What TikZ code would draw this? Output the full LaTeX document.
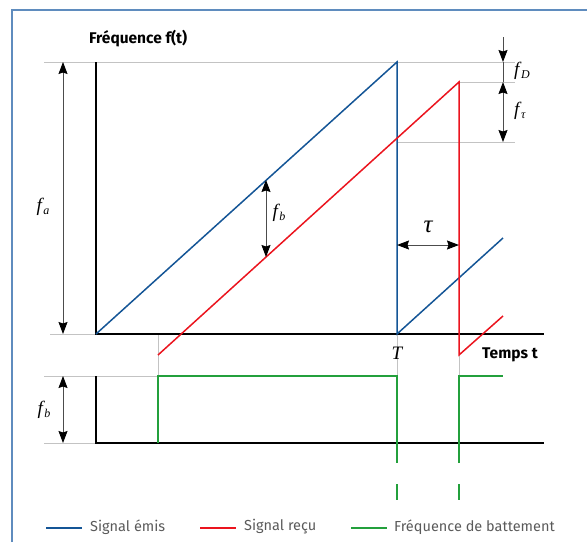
\documentclass[tikz,border=0pt]{standalone}
\usepackage{fontspec}
\setmainfont{Liberation Serif}
\newfontfamily\labfont{Fira Sans}
\usetikzlibrary{arrows.meta}
\definecolor{frameblue}{RGB}{95,140,190}
\definecolor{sigblue}{RGB}{20,85,150}
\definecolor{sigred}{RGB}{235,20,30}
\definecolor{siggreen}{RGB}{35,160,60}
\definecolor{guide}{RGB}{195,195,195}
\definecolor{legtext}{RGB}{90,90,90}
\newcommand\fsub[1]{\textit{f}\kern-0.5pt\raisebox{-0.35ex}{\fontsize{12}{12}\selectfont\textit{#1}}}
\begin{document}
\begin{tikzpicture}[x=1pt,y=-1pt,
  axisline/.style={line width=2.4pt,black},
  sig/.style={line width=1.5pt},
  guideline/.style={line width=0.9pt,guide},
  dimarrow/.style={line width=1pt,black!70,{Stealth[length=12pt,width=9pt,inset=1.5pt,color=black]}-{Stealth[length=12pt,width=9pt,inset=1.5pt,color=black]}},
  dimhead/.style={line width=1pt,black!70,-{Stealth[length=12pt,width=9pt,inset=1.5pt,color=black]}},
  mlabel/.style={font=\fontsize{19}{19}\selectfont,inner sep=0pt},
  boldlabel/.style={font=\labfont\bfseries\fontsize{15.5}{15.5}\selectfont,inner sep=0pt},
  legendtext/.style={font=\labfont\fontsize{14.5}{14.5}\selectfont,text=legtext,anchor=west,inner sep=0pt}]
\useasboundingbox (0,0) rectangle (587,542);
% frame
\draw[frameblue,line width=2.4pt] (12,542) -- (12,10) -- (587,10);

% named points
\coordinate (O) at (96,334);
\coordinate (Ytop) at (96,62);
\coordinate (Xend) at (544,334);
\coordinate (Bpeak) at (397,62);
\coordinate (Bbot) at (397,334);
\coordinate (Bend) at (503,238);
\coordinate (Rstart) at (158,355);
\coordinate (Rpeak) at (459,82);
\coordinate (Rbot) at (459,355);
\coordinate (Rend) at (503,316);
\coordinate (O2) at (96,443);
\coordinate (Y2top) at (96,376);
\coordinate (X2end) at (544,443);

% guide lines
\draw[guideline] (44,62) -- (515,62);
\draw[guideline] (459,82) -- (515,82);
\draw[guideline] (397,142) -- (515,142);
\draw[guideline] (50,334) -- (O);
\draw[guideline] (158,334) -- (158,376);
\draw[guideline] (397,334) -- (397,376);
\draw[guideline] (459,355) -- (459,376);
\draw[guideline] (44,376) -- (158,376);
\draw[guideline] (44,443) -- (O2);

% axes
\draw[axisline] (Ytop) -- (O) -- (Xend);
\draw[axisline] (Y2top) -- (O2) -- (X2end);

% signals
\draw[sig,sigblue] (O) -- (Bpeak) -- (Bbot) -- (Bend);
\draw[sig,sigred] (Rstart) -- (Rpeak) -- (Rbot) -- (Rend);
\draw[sig,siggreen] (158,443) -- (158,376) -- (397,376) -- (397,463);
\draw[sig,siggreen] (459,463) -- (459,376) -- (503,376);
\draw[sig,siggreen] (397,484) -- (397,500);
\draw[sig,siggreen] (459,484) -- (459,500);

% dimension arrows
\draw[dimarrow] (63,62) -- (63,334);
\draw[dimarrow] (63,376) -- (63,443);
\draw[dimarrow] (266,180) -- (266,257);
\draw[dimhead] (503,37) -- (503,62);
\draw[line width=1pt,black!70] (503,62) -- (503,82);
\draw[dimarrow] (503,82) -- (503,142);
\draw[dimarrow] (397,245) -- (459,245);

% labels
\node[boldlabel,anchor=west] (ylab) at (89,39) {Fréquence f(t)};
\node[boldlabel,anchor=west] (xlab) at (482,355) {Temps t};
\node[mlabel] (fa) at (43,207) {\fsub{a}};
\node[mlabel] (fb) at (279,213) {\fsub{b}};
\node[mlabel] (fb2) at (44,410) {\fsub{b}};
\node[mlabel,anchor=west] (fD) at (514,71) {\fsub{D}};
\node[mlabel,anchor=west] (ft) at (514,111) {\fsub{τ}};
\node[font=\fontsize{25}{25}\selectfont\itshape,inner sep=0pt] (tau) at (428,227) {τ};
\node[font=\fontsize{19}{19}\selectfont\itshape,inner sep=0pt] (T) at (397,353) {T};

% legend
\draw[sig,sigblue] (46,528) -- (82,528);
\node[legendtext] (l1) at (90,527) {Signal émis};
\draw[sig,sigred] (200,528) -- (236,528);
\node[legendtext] (l2) at (244,527) {Signal reçu};
\draw[sig,siggreen] (351,528) -- (387,528);
\node[legendtext] (l3) at (394,527) {Fréquence de battement};
\end{tikzpicture}
\end{document}
